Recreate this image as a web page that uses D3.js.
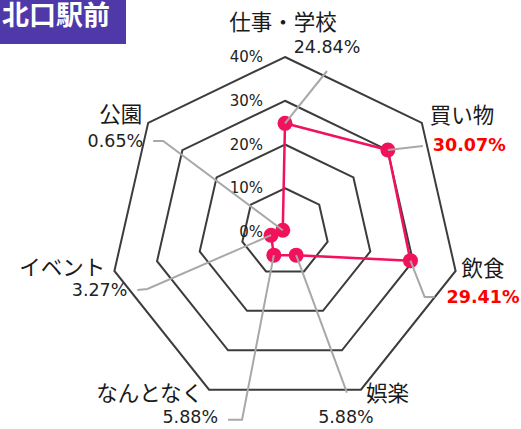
<!DOCTYPE html>
<html>
<head>
<meta charset="utf-8">
<script src="https://cdn.jsdelivr.net/npm/d3@7"></script>
<style>
  html, body { margin: 0; padding: 0; background: #fff; }
  svg { display: block; }
</style>
</head>
<body>
<div id="chart"></div>
<script>
// Visit purposes around the north exit (share of responses, %)
const categories = ["仕事・学校", "買い物", "飲食", "娯楽", "なんとなく", "イベント", "公園"];
const shares = [24.84, 30.07, 29.41, 5.88, 5.88, 3.27, 0.65];
const valueLabels = ["24.84%", "30.07%", "29.41%", "5.88%", "5.88%", "3.27%", "0.65%"];
const ringLevels = [0, 10, 20, 30, 40];
const ringLabels = ["0%", "10%", "20%", "30%", "40%"];
const highlighted = ["買い物", "飲食"];
const title = "北口駅前";

const W = 521, H = 429;
const cx = 285, cy = 232, R = 175;

const svg = d3.select("#chart").append("svg")
  .attr("width", W).attr("height", H)
  .attr("viewBox", `0 0 ${W} ${H}`);

const n = categories.length;
const angle = d3.scaleLinear().domain([0, n]).range([0, 2 * Math.PI]);
const r = d3.scaleLinear().domain([0, 40]).range([0, R]);

const pt = (i, v) => {
  const a = angle(i);
  return [cx + r(v) * Math.sin(a), cy - r(v) * Math.cos(a)];
};

// grid rings (heptagons)
const ringLine = d3.line().curve(d3.curveLinearClosed);
svg.append("g").selectAll("path")
  .data(ringLevels.filter(l => l > 0))
  .join("path")
  .attr("d", l => ringLine(d3.range(n).map(i => pt(i, l))))
  .attr("fill", "none")
  .attr("stroke", "#3c3c3c")
  .attr("stroke-width", 2);

// ring labels along the top axis
svg.append("g").selectAll("text")
  .data(ringLevels)
  .join("text")
  .attr("x", cx - 22)
  .attr("y", l => cy - r(l))
  .attr("text-anchor", "end")
  .attr("dominant-baseline", "central")
  .attr("font-family", "DejaVu Sans, Verdana, sans-serif")
  .attr("font-size", 15)
  .attr("fill", "#222")
  .text((l, i) => ringLabels[i]);

// data polygon
const pink = "#f2125c";
svg.append("path")
  .attr("d", ringLine(shares.map((v, i) => pt(i, v))))
  .attr("fill", "none")
  .attr("stroke", pink)
  .attr("stroke-width", 2.5)
  .attr("stroke-linejoin", "round");

svg.append("g").selectAll("circle")
  .data(shares)
  .join("circle")
  .attr("cx", (v, i) => pt(i, v)[0])
  .attr("cy", (v, i) => pt(i, v)[1])
  .attr("r", 7.5)
  .attr("fill", pink);

// label layout, offsets from each outer vertex
const nameLayout = [
  { dx: -2, dy: -37, anchor: "middle" },
  { dx: 8, dy: -9, anchor: "start" },
  { dx: 6, dy: -4, anchor: "start" },
  { dx: 5, dy: 2, anchor: "start" },
  { dx: -6, dy: 2, anchor: "end" },
  { dx: -9, dy: -5, anchor: "end" },
  { dx: -6, dy: -10, anchor: "end" }
];
const valueLayout = [
  { dx: 42, dy: -10, anchor: "middle", leader: [[42, 14]] },
  { dx: 11, dy: 22, anchor: "start", leader: [[1, 23]] },
  { dx: -9, dy: 26, anchor: "start", leader: [[-31, 26], [-21, 26]] },
  { dx: -15, dy: 27, anchor: "middle", leader: [[-14, 3]] },
  { dx: 9, dy: 27, anchor: "end", leader: [[33, 30], [19, 30]] },
  { dx: 13, dy: 19, anchor: "end", leader: [[33, 18], [23, 19]] },
  { dx: -5, dy: 18, anchor: "end", leader: [[15, 18], [5, 18]] }
];

// leader lines from each point to its value label
const leader = d3.line();
svg.append("g").selectAll("path")
  .data(shares)
  .join("path")
  .attr("d", (v, i) => {
    const [vx, vy] = pt(i, 40);
    const pts = [pt(i, v)].concat(valueLayout[i].leader.map(([dx, dy]) => [vx + dx, vy + dy]));
    return leader(pts);
  })
  .attr("fill", "none")
  .attr("stroke", "#a8a8a8")
  .attr("stroke-width", 2);

// category names
svg.append("g").selectAll("text")
  .data(categories)
  .join("text")
  .attr("x", (c, i) => pt(i, 40)[0] + nameLayout[i].dx)
  .attr("y", (c, i) => pt(i, 40)[1] + nameLayout[i].dy)
  .attr("text-anchor", (c, i) => nameLayout[i].anchor)
  .attr("dominant-baseline", "central")
  .attr("font-family", "Noto Sans CJK JP, sans-serif")
  .attr("font-size", 21.5)
  .attr("fill", "#1a1a1a")
  .text(c => c);

// value labels
svg.append("g").selectAll("text")
  .data(valueLabels)
  .join("text")
  .attr("x", (t, i) => pt(i, 40)[0] + valueLayout[i].dx)
  .attr("y", (t, i) => pt(i, 40)[1] + valueLayout[i].dy)
  .attr("text-anchor", (t, i) => valueLayout[i].anchor)
  .attr("dominant-baseline", "central")
  .attr("font-family", "DejaVu Sans, Verdana, sans-serif")
  .attr("font-size", 17.5)
  .attr("font-weight", (t, i) => highlighted.includes(categories[i]) ? "bold" : "normal")
  .attr("fill", (t, i) => highlighted.includes(categories[i]) ? "#ff0000" : "#222")
  .text(t => t);

// title badge
svg.append("rect")
  .attr("x", 0).attr("y", 0)
  .attr("width", 126).attr("height", 44)
  .attr("fill", "#4f39a9");
svg.append("text")
  .attr("x", 2).attr("y", 25)
  .attr("font-family", "Noto Sans CJK JP, sans-serif")
  .attr("font-weight", "bold")
  .attr("font-size", 27)
  .attr("fill", "#fff")
  .text(title);
</script>
</body>
</html>
